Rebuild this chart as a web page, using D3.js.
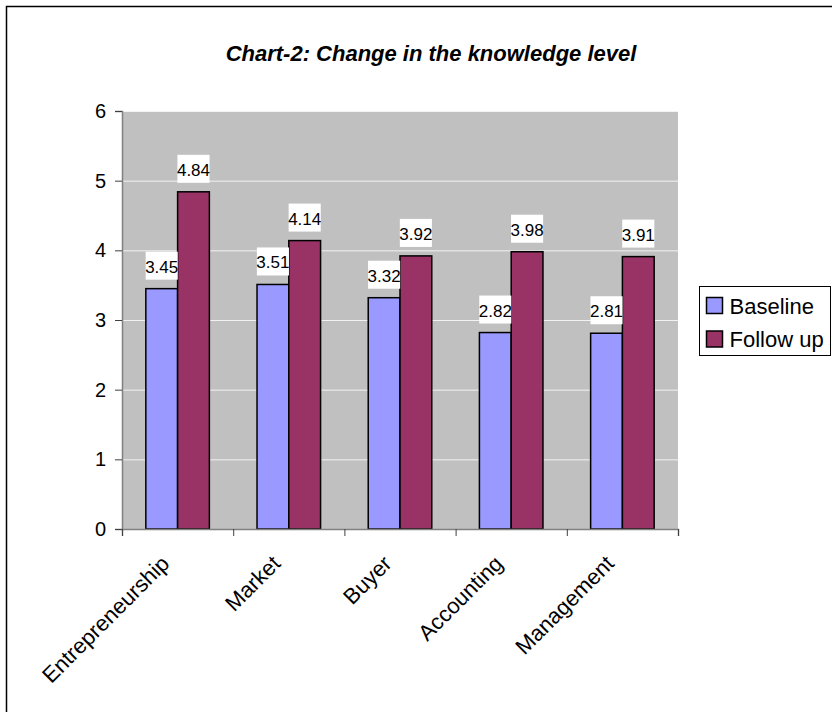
<!DOCTYPE html>
<html>
<head>
<meta charset="utf-8">
<script src="https://cdn.jsdelivr.net/npm/d3@7"></script>
<style>
  body { margin: 0; background: #fff; }
  text { font-family: "Liberation Sans", Arial, sans-serif; }
</style>
</head>
<body>
<div id="chart"></div>
<script>
const categories = ['Entrepreneurship', 'Market', 'Buyer', 'Accounting', 'Management'];
const baseline = [3.45, 3.51, 3.32, 2.82, 2.81];
const followUp = [4.84, 4.14, 3.92, 3.98, 3.91];
const seriesNames = ['Baseline', 'Follow up'];
const seriesColors = ['#9999ff', '#993366'];
const yTicks = [0, 1, 2, 3, 4, 5, 6];

const W = 832, H = 712;
const plot = { left: 122, right: 678, top: 111, bottom: 529 };

const svg = d3.select('#chart').append('svg')
  .attr('width', W).attr('height', H);

// outer frame (right and bottom edges fall outside the picture)
svg.append('rect')
  .attr('x', 6.5).attr('y', 6.5)
  .attr('width', 840).attr('height', 720)
  .attr('fill', '#fff').attr('stroke', '#000').attr('stroke-width', 1.5);

// title
svg.append('text')
  .attr('x', 431).attr('y', 61)
  .attr('text-anchor', 'middle')
  .style('font-size', '22px').style('font-weight', 'bold').style('font-style', 'italic')
  .text('Chart-2: Change in the knowledge level');

const x0 = d3.scaleBand().domain(categories).range([plot.left, plot.right]);
const x1 = d3.scaleBand().domain(seriesNames).range([0, x0.bandwidth()])
  .paddingInner(0).paddingOuter(0.75);
const y = d3.scaleLinear().domain([0, 6]).range([plot.bottom, plot.top]);

// plot background
svg.append('rect')
  .attr('x', plot.left).attr('y', plot.top)
  .attr('width', plot.right - plot.left).attr('height', plot.bottom - plot.top)
  .attr('fill', '#c0c0c0');

// grid
svg.append('g')
  .attr('transform', `translate(${plot.left},0)`)
  .call(d3.axisLeft(y).tickValues(yTicks.slice(1)).tickSize(-(plot.right - plot.left)).tickFormat(''))
  .call(g => g.select('.domain').remove())
  .selectAll('line').attr('stroke', '#f2f2f2').attr('stroke-width', 1);

// bars
const rows = categories.map((c, i) => ({ cat: c, vals: [baseline[i], followUp[i]] }));
const groups = svg.selectAll('.grp').data(rows).enter().append('g')
  .attr('transform', d => `translate(${x0(d.cat)},0)`);

groups.selectAll('rect')
  .data(d => d.vals.map((v, j) => ({ name: seriesNames[j], v, j })))
  .enter().append('rect')
  .attr('x', d => x1(d.name))
  .attr('y', d => y(d.v))
  .attr('width', x1.bandwidth())
  .attr('height', d => y(0) - y(d.v))
  .attr('fill', d => seriesColors[d.j])
  .attr('stroke', '#000').attr('stroke-width', 1.5);

// value labels with white boxes
groups.each(function(d) {
  const g = d3.select(this);
  d.vals.forEach((v, j) => {
    const cx = x1(seriesNames[j]) + x1.bandwidth() / 2;
    const top = y(v);
    const lab = g.append('g');
    const t = lab.append('text')
      .attr('x', cx).attr('y', top - 16)
      .attr('text-anchor', 'middle')
      .style('font-size', '17px')
      .text(v.toFixed(2));
    const bb = t.node().getBBox();
    lab.insert('rect', 'text')
      .attr('x', bb.x + 0.5).attr('y', top - 37)
      .attr('width', bb.width - 1).attr('height', 28)
      .attr('fill', '#fff');
  });
});

// y axis
const yAxis = svg.append('g')
  .attr('transform', `translate(${plot.left},0)`)
  .call(d3.axisLeft(y).tickValues(yTicks).tickSize(7).tickPadding(9).tickFormat(d3.format('d')));
yAxis.select('.domain').attr('stroke', '#808080').attr('stroke-width', 1.5);
yAxis.selectAll('line').attr('stroke', '#404040');
yAxis.selectAll('text').style('font-size', '20px').attr('fill', '#000');

// x axis with ticks at category boundaries
const xAxis = svg.append('g')
  .attr('transform', `translate(0,${plot.bottom})`)
  .call(d3.axisBottom(d3.scaleLinear().domain([0, categories.length]).range([plot.left, plot.right]))
    .ticks(categories.length).tickSize(7).tickFormat(''));
xAxis.select('.domain').attr('stroke', '#808080').attr('stroke-width', 1.5);
xAxis.selectAll('line').attr('stroke', '#404040');

svg.selectAll('.xlab').data(categories).enter().append('text')
  .attr('transform', d => `translate(${x0(d) + x0.bandwidth() / 2 - 7},${plot.bottom + 36}) rotate(-45)`)
  .attr('text-anchor', 'end')
  .style('font-size', '22px')
  .text(d => d);

// legend
const legend = svg.append('g').attr('transform', 'translate(699.5,286.5)');
legend.append('rect')
  .attr('width', 131).attr('height', 69)
  .attr('fill', '#fff').attr('stroke', '#000').attr('stroke-width', 1);
seriesNames.forEach((name, i) => {
  legend.append('rect')
    .attr('x', 7).attr('y', 11 + i * 33.5)
    .attr('width', 16).attr('height', 16)
    .attr('fill', seriesColors[i]).attr('stroke', '#000').attr('stroke-width', 1.5);
  legend.append('text')
    .attr('x', 30).attr('y', 27 + i * 33.5)
    .style('font-size', '22px')
    .text(name);
});
</script>
</body>
</html>
